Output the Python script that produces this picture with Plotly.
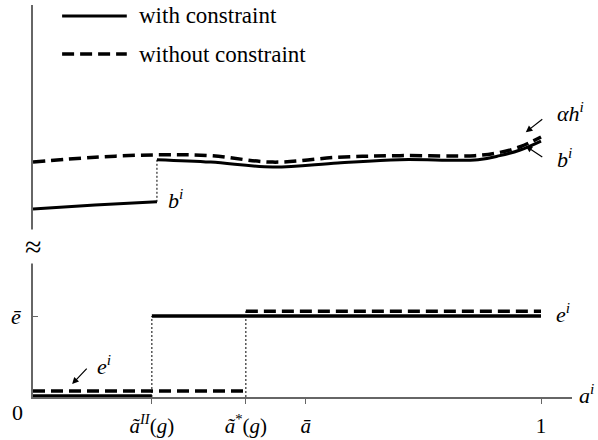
import plotly.graph_objects as go

# ---- key positions on the a^i axis ----
a_tilde_II = 0.234
a_tilde_star = 0.419
a_bar = 0.537
a_jump_upper = 0.244
e_bar = 1.0

xtick_vals = [a_tilde_II, a_tilde_star, a_bar, 1.0]
xtick_text = ["<i>ã</i><sup><i>II</i></sup>(<i>g</i>)", "<i>ã</i><sup>*</sup>(<i>g</i>)", "<i>ā</i>", "1"]

# ---- upper panel: alpha h^i (without constraint) ----
a_h = [0, 0.122, 0.244, 0.35, 0.472, 0.60, 0.722, 0.870, 0.919, 0.959, 1.0]
y_h = [2.90, 2.96, 2.99, 2.98, 2.90, 2.96, 2.98, 2.98, 3.02, 3.09, 3.21]

# ---- upper panel: b^i (with constraint) ----
a_b_low = [0, 0.122, 0.244]
y_b_low = [2.32, 2.37, 2.41]
a_b_high = [0.244, 0.35, 0.472, 0.60, 0.722, 0.876, 0.919, 0.959, 1.0]
y_b_high = [2.93, 2.90, 2.84, 2.89, 2.93, 2.93, 2.98, 3.05, 3.16]

# ---- lower panel: e^i ----
a_e_with_low = [0, a_tilde_II]
y_e_with_low = [0.012, 0.012]
a_e_with_high = [a_tilde_II, 1.0]
y_e_with_high = [e_bar, e_bar]
a_e_wo_low = [0, a_tilde_star]
y_e_wo_low = [0.074, 0.074]
a_e_wo_high = [a_tilde_star, 1.0]
y_e_wo_high = [1.06, 1.06]

FONT = "Liberation Serif"
DASH = "12px,6px"
BLK = "black"

fig = go.Figure()

def add(x, y, dash=None, width=3.0, shape="linear"):
    fig.add_trace(go.Scatter(x=x, y=y, mode="lines", cliponaxis=False, showlegend=False,
                             hoverinfo="skip",
                             line=dict(color=BLK, width=width, dash=dash, shape=shape, smoothing=1.0)))

# dotted guides
add([a_jump_upper, a_jump_upper], [y_b_low[-1], y_b_high[0]], dash="2px,2px", width=1)
add([a_tilde_II, a_tilde_II], [0, e_bar], dash="2px,2px", width=1)
add([a_tilde_star, a_tilde_star], [0, y_e_wo_high[0]], dash="2px,2px", width=1)

# upper curves
add(a_h, y_h, dash=DASH, width=3.5, shape="spline")
add(a_b_low, y_b_low, width=3, shape="spline")
add(a_b_high, y_b_high, width=3, shape="spline")

# lower step lines
add(a_e_wo_low, y_e_wo_low, dash=DASH, width=3.5)
add(a_e_wo_high, y_e_wo_high, dash=DASH, width=3.5)
add(a_e_with_low, y_e_with_low, width=3.5)
add(a_e_with_high, y_e_with_high, width=3.5)

ann = []
def txt(x, y, s, xanchor="center", size=22, xref="x", yref="y", bg=None):
    d = dict(x=x, y=y, text=s, showarrow=False, xanchor=xanchor, yanchor="middle",
             xref=xref, yref=yref, font=dict(family=FONT, size=size, color=BLK))
    if bg:
        d["bgcolor"] = bg
        d["borderpad"] = 0
    ann.append(d)

def arrow(x, y, ax, ay):
    ann.append(dict(x=x, y=y, ax=ax, ay=ay, text="", showarrow=True, arrowhead=2,
                    arrowsize=1.1, arrowwidth=1.2, arrowcolor=BLK, xref="x", yref="y"))

txt(1.059, 3.52, "<i>αh</i><sup><i>i</i></sup>")
txt(1.047, 2.95, "<i>b</i><sup><i>i</i></sup>")
txt(0.262, 2.44, "<i>b</i><sup><i>i</i></sup>", xanchor="left")
txt(1.025, 1.04, "<i>e</i><sup><i>i</i></sup>", xanchor="left")
txt(0.122, 0.40, "<i>e</i><sup><i>i</i></sup>", xanchor="left")
txt(1.026, 0.008, "<i>a</i><sup><i>i</i></sup>", xref="paper", yref="paper")
txt(-0.028, -0.040, "0", xref="paper", yref="paper")
txt(0.0, 0.383, "≈", xref="paper", yref="paper", size=30, bg="white")

arrow(0.970, 3.27, 18, -14)
arrow(0.970, 3.10, 18, 12)
arrow(0.077, 0.16, 16, -17)

# legend (drawn)
txt(0.193, 0.972, "with constraint", xanchor="left", xref="paper", yref="paper", size=23)
txt(0.193, 0.875, "without constraint", xanchor="left", xref="paper", yref="paper", size=23)
shapes = [
    dict(type="line", xref="paper", yref="paper", x0=0.054, x1=0.174, y0=0.972, y1=0.972,
         line=dict(color=BLK, width=3)),
    dict(type="line", xref="paper", yref="paper", x0=0.054, x1=0.174, y0=0.875, y1=0.875,
         line=dict(color=BLK, width=3.5, dash=DASH)),
]

fig.update_layout(
    width=598, height=440,
    margin=dict(l=33, r=26, t=5, b=43),
    paper_bgcolor="white", plot_bgcolor="white",
    font=dict(family=FONT),
    annotations=ann, shapes=shapes,
    xaxis=dict(range=[0, 1.061], showgrid=False, zeroline=False, showline=True, automargin=False,
               linecolor="#666", linewidth=1.5, ticks="outside", ticklen=5, tickcolor="#666",
               tickvals=xtick_vals, ticktext=xtick_text, ticklabelstandoff=4,
               tickfont=dict(family=FONT, size=21, color=BLK)),
    yaxis=dict(range=[0, 4.84], showgrid=False, zeroline=False, showline=True, automargin=False,
               linecolor="#666", linewidth=1.5, ticks="inside", ticklen=5, tickcolor="#666",
               tickvals=[e_bar], ticktext=["<i>ē</i>"], ticklabelstandoff=6,
               tickfont=dict(family=FONT, size=22, color=BLK)),
)

fig.write_html("out.html", config={"displayModeBar": False},
               post_script="document.body.style.margin='0';document.body.style.overflow='hidden';")
